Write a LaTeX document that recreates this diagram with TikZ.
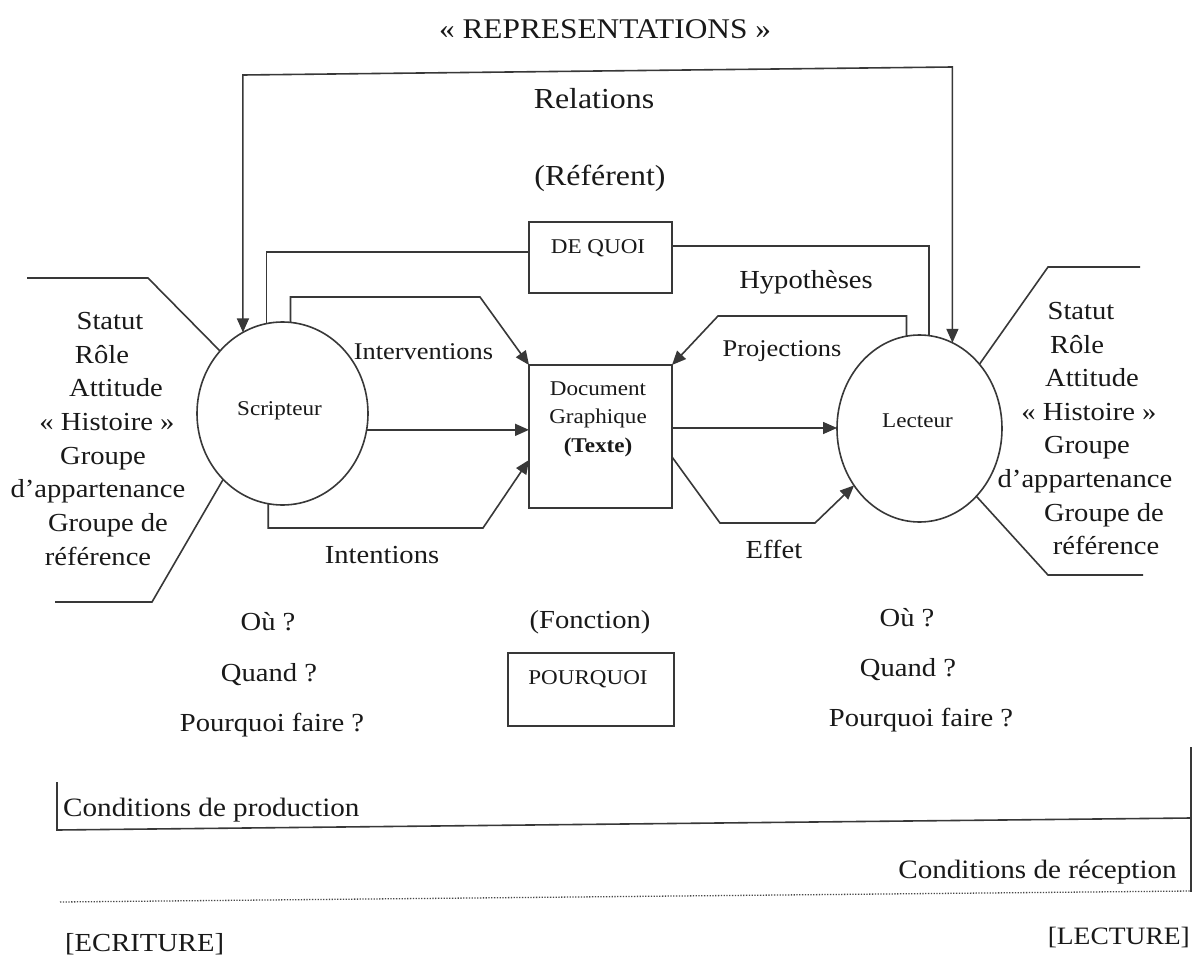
\documentclass[tikz,border=0pt]{standalone}
\usepackage{fontspec}
\setmainfont{Liberation Serif}[FakeStretch=1.1]
\usetikzlibrary{arrows.meta,shapes.geometric,calc}

\begin{document}
\begin{tikzpicture}[x=1pt,y=-1pt,
  ln/.style={draw=black!78,line width=1.6pt},
  arr/.style={ln,-{Triangle[length=14pt,width=12pt]}},
  dblarr/.style={ln,{Triangle[length=14pt,width=12pt]}-{Triangle[length=14pt,width=12pt]}},
  person/.style={ellipse,ln,inner sep=0pt,outer sep=0pt},
  frame/.style={rectangle,ln,inner sep=0pt,outer sep=0pt},
  big/.style={font=\fontsize{29}{34}\selectfont,inner sep=0pt,text height=20pt,text depth=6pt,text=black!90},
  lab/.style={font=\fontsize{26}{31}\selectfont,inner sep=0pt,text height=18pt,text depth=5pt,text=black!90},
  mid/.style={font=\fontsize{24}{29}\selectfont,inner sep=0pt,text height=17pt,text depth=5pt,text=black!90},
  small/.style={font=\fontsize{21}{28}\selectfont,inner sep=0pt,text height=15pt,text depth=4pt,text=black!90},
  dots/.style={draw=black!72,line width=1.3pt,dash pattern=on 1.3pt off 1.5pt}
]
\useasboundingbox (0,0) rectangle (1200,958);
\fill[white] (0,0) rectangle (1200,958);

% title and referent
\node[lab,font=\fontsize{28.5}{33}\selectfont] (title) at (605,32) {« REPRESENTATIONS »};
\node[big] (rel) at (594,102) {Relations};
\node[big] (refe) at (600,178) {(Référent)};

% the two persons
\node[person,minimum width=171pt,minimum height=183pt] (scrip) at (282.5,413.5) {};
\node[small] (scriptxt) at (279.5,410) {Scripteur};
\node[person,minimum width=165pt,minimum height=187pt] (lect) at (919.5,428.5) {};
\node[small] (lecttxt) at (917.5,422) {Lecteur};

% boxes
\node[frame,minimum width=143pt,minimum height=71pt] (dq) at (600.5,257.5) {};
\node[small] (dqtxt) at (598,248) {DE QUOI};
\node[frame,minimum width=143pt,minimum height=143pt] (doc) at (600.5,436.5) {};
\node[font=\fontsize{21}{28.5}\selectfont,align=center,inner sep=0pt,text=black!90] (doctxt) at (598,419)
  {Document\\Graphique\\\textbf{(Texte)}};
\node[frame,minimum width=166pt,minimum height=73pt] (pq) at (591,689.5) {};
\node[small] (pqtxt) at (588,679) {POURQUOI};

% outer loop: representations
\coordinate (oL) at (241,75);
\coordinate (oR) at (955,67);
\draw[dblarr] (scrip.116) -- (scrip.116 |- oL) -- (lect.69 |- oR) -- (lect.69);

% referent loop through DE QUOI
\coordinate (dqL) at ($(dq.north west)!0.42!(dq.south west)$);
\coordinate (dqR) at ($(dq.north east)!0.34!(dq.south east)$);
\draw[ln] (scrip.100) |- (dqL);
\draw[ln] (dqR) -| (lect.84);

% scripteur to document
\coordinate (iv) at (480,297);
\draw[arr] (scrip.85) |- (iv) -- (doc.north west);
\draw[arr] (scrip.-11) -- (scrip.-11 -| doc.west);
\coordinate (it) at (483,528);
\draw[arr] (scrip.-99) |- (it) -- ($(doc.north west)!0.664!(doc.south west)$);

% document to lecteur
\coordinate (dl) at (672,428);
\draw[arr] (dl) -- (dl -| lect.west);
\coordinate (pj) at (718,316);
\draw[arr] (lect.98) |- (pj) -- (doc.north east);
\coordinate (ef1) at (720,523);
\coordinate (ef2) at (815,523);
\draw[arr] ($(doc.north east)!0.643!(doc.south east)$) -- (ef1) -- (ef2) -- (lect.-139);

% connector labels
\node[mid] (interv) at (423.5,353) {Interventions};
\node[lab] (intent) at (382,557) {Intentions};
\node[lab] (hypo) at (806,282) {Hypothèses};
\node[mid] (proj) at (782,350) {Projections};
\node[lab] (effet) at (774,552) {Effet};

% brackets around the persons
\draw[ln] (27,278) -- (148,278) -- (scrip.135);
\draw[ln] (scrip.-132) -- (152,602) -- (55,602);
\draw[ln] (1140,267) -- (1048,267) -- (lect.47);
\draw[ln] (lect.-50) -- (1048,575) -- (1143,575);

% person attributes
\foreach \t/\x/\y [count=\i] in {Statut/110/323, Rôle/102/357, Attitude/116/390,
    « Histoire »/107/424, Groupe/103/458, d’appartenance/98/491,
    Groupe de/108/525, référence/98/559}
  \node[lab] (sl\i) at (\x,\y) {\t};
\foreach \t/\x/\y [count=\i] in {Statut/1081/313, Rôle/1077/347, Attitude/1092/380,
    « Histoire »/1089/414, Groupe/1087/447, d’appartenance/1085/481,
    Groupe de/1104/515, référence/1106/548}
  \node[lab] (sr\i) at (\x,\y) {\t};

% questions
\node[lab] (ou1) at (268,624) {Où ?};
\node[lab] (qd1) at (269,675) {Quand ?};
\node[lab] (pf1) at (272,725) {Pourquoi faire ?};
\node[lab] (fonc) at (590,622) {(Fonction)};
\node[lab] (ou2) at (907,620) {Où ?};
\node[lab] (qd2) at (908,670) {Quand ?};
\node[lab] (pf2) at (921,720) {Pourquoi faire ?};

% conditions
\draw[ln] (57,782) -- (57,830) -- (1191,818);
\draw[ln] (1191,747) -- (1191,892);
\node[lab,anchor=west,font=\fontsize{26.5}{31}\selectfont] (cprod) at (63,810) {Conditions de production};
\node[lab,anchor=east,font=\fontsize{26.5}{31}\selectfont] (crec) at (1177,872) {Conditions de réception};
\draw[dots] (60,902) -- (1191,891);
\node[lab,anchor=west] (ecr) at (65,945) {[ECRITURE]};
\node[lab,anchor=east,font=\fontsize{25}{30}\selectfont] (lec) at (1190,938) {[LECTURE]};
\end{tikzpicture}
\end{document}
